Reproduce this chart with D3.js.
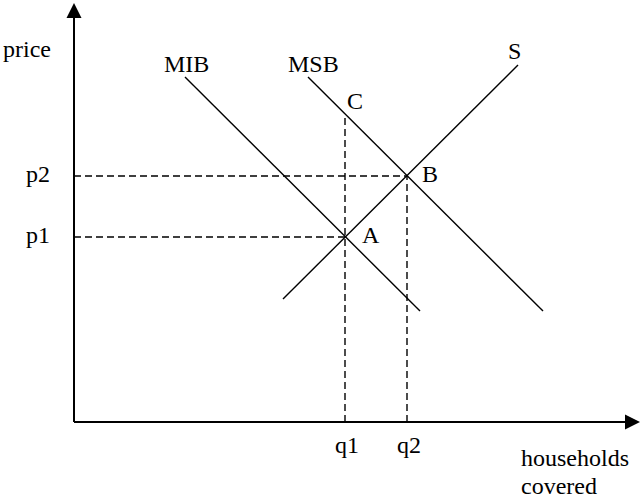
<!doctype html>
<html>
  <head>
    <meta charset='UTF-8'>
    <title>Subsidy diagram</title>
    <script src="https://d3js.org/d3.v7.min.js"></script>
    <style>
      body { margin: 0; background: #fff; }
      text { font-family: "Liberation Serif", "Times New Roman", serif; font-size: 24px; fill: #000; }
    </style>
  </head>
  <body>
    <svg id='render' width='640' height='500'></svg>
    <script>
      // curves, as [x, y] end points in chart units
      const lineNames = ["MIB", "MSB", "S"];
      const lineStarts = [[111, 345], [234, 345], [209, 123]];
      const lineEnds = [[346, 111], [469, 111], [444, 357]];
      // marked quantities and prices
      const qNames = ["q1", "q2"];
      const qValues = [271, 333];
      const pNames = ["p1", "p2"];
      const pValues = [185, 246];
      const cValue = 308;
      const xTitle = ["households", "covered"];
      const yTitle = "price";

      const svg = d3.select("#render");
      const x = d3.scaleLinear().domain([0, 566]).range([74, 640]);
      const y = d3.scaleLinear().domain([0, 419]).range([422, 3]);

      // dashed guides
      const guides = [
        [[0, pValues[0]], [qValues[0], pValues[0]]],
        [[0, pValues[1]], [qValues[1], pValues[1]]],
        [[qValues[0], 0], [qValues[0], cValue]],
        [[qValues[1], 0], [qValues[1], pValues[1]]]
      ];
      svg.selectAll("line.guide").data(guides)
        .enter().append("line").attr("class", "guide")
        .attr("x1", d => x(d[0][0])).attr("y1", d => y(d[0][1]))
        .attr("x2", d => x(d[1][0])).attr("y2", d => y(d[1][1]))
        .attr("stroke", "#000").attr("stroke-width", 1.4)
        .attr("stroke-dasharray", "7,4");

      // curves
      svg.selectAll("line.curve").data(lineNames)
        .enter().append("line").attr("class", "curve")
        .attr("x1", (d, i) => x(lineStarts[i][0])).attr("y1", (d, i) => y(lineStarts[i][1]))
        .attr("x2", (d, i) => x(lineEnds[i][0])).attr("y2", (d, i) => y(lineEnds[i][1]))
        .attr("stroke", "#000").attr("stroke-width", 1.4);

      // axes
      const x0 = x(0), y0 = y(0);
      const xMax = x.range()[1], yMax = y.range()[1];
      svg.append("line").attr("x1", x0).attr("y1", y0).attr("x2", x0).attr("y2", yMax + 10)
        .attr("stroke", "#000").attr("stroke-width", 2);
      svg.append("line").attr("x1", x0).attr("y1", y0).attr("x2", xMax - 10).attr("y2", y0)
        .attr("stroke", "#000").attr("stroke-width", 2);
      svg.append("path")
        .attr("d", `M${x0},${yMax}L${x0 - 7.5},${yMax + 15}L${x0 + 7.5},${yMax + 15}Z`);
      svg.append("path")
        .attr("d", `M${xMax},${y0}L${xMax - 15},${y0 - 7.5}L${xMax - 15},${y0 + 7.5}Z`);

      // curve labels, placed above the upper end of each line
      const tops = lineNames.map((d, i) => lineStarts[i][1] > lineEnds[i][1] ? lineStarts[i] : lineEnds[i]);
      const labelShift = [[-21, -5], [-20, -5], [-10, -6]];
      svg.selectAll("text.curve").data(lineNames)
        .enter().append("text").attr("class", "curve")
        .attr("x", (d, i) => x(tops[i][0]) + labelShift[i][0])
        .attr("y", (d, i) => y(tops[i][1]) + labelShift[i][1])
        .text(d => d);

      // point labels
      const points = [
        ["A", qValues[0], pValues[0], 17, 6],
        ["B", qValues[1], pValues[1], 15, 6],
        ["C", qValues[0], cValue, 2, -5]
      ];
      svg.selectAll("text.point").data(points)
        .enter().append("text").attr("class", "point")
        .attr("x", d => x(d[1]) + d[3]).attr("y", d => y(d[2]) + d[4])
        .text(d => d[0]);

      // tick-like labels
      svg.selectAll("text.p").data(pNames)
        .enter().append("text").attr("class", "p")
        .attr("x", 26).attr("y", (d, i) => y(pValues[i]) + 6)
        .text(d => d);
      svg.selectAll("text.q").data(qNames)
        .enter().append("text").attr("class", "q")
        .attr("x", (d, i) => x(qValues[i]) - 10).attr("y", y0 + 31)
        .text(d => d);

      // axis titles
      svg.append("text").attr("x", 3).attr("y", 57).text(yTitle);
      svg.selectAll("text.xt").data(xTitle)
        .enter().append("text").attr("class", "xt")
        .attr("x", 521).attr("y", (d, i) => 466 + 28 * i)
        .text(d => d);
    </script>
  </body>
</html>
